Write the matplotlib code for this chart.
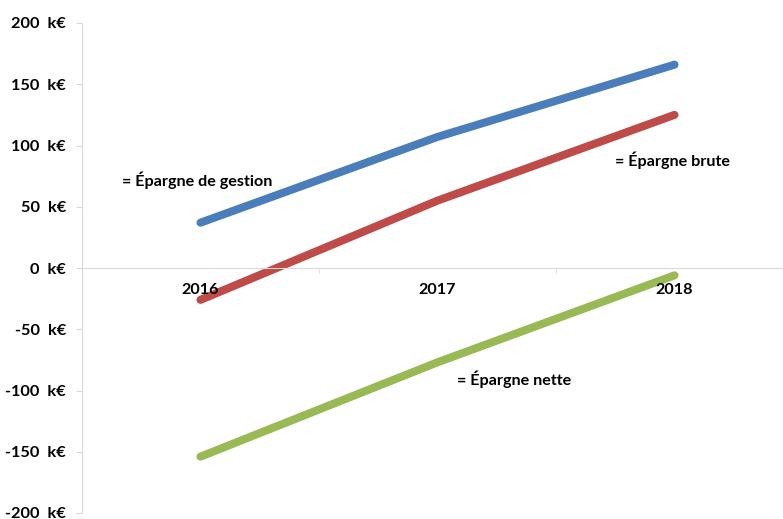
import matplotlib.pyplot as plt
from matplotlib.ticker import FixedLocator

years = ["2016", "2017", "2018"]
gestion = [37, 107, 166]
brute = [-26, 55, 125]
nette = [-154, -77, -6]
yticks = [-200, -150, -100, -50, 0, 50, 100, 150, 200]
ylabels = [f"{v}  k€" for v in yticks]

plt.rcParams['font.family'] = ['Lato', 'DejaVu Sans']
plt.rcParams['font.weight'] = 'bold'

fig = plt.figure(figsize=(7.83, 5.19), dpi=100)
ax = fig.add_axes([82 / 783, 1 - 513 / 519, 1 - 82 / 783, (513 - 23) / 519])
ax.set_axisbelow(False)

x = range(len(years))
ax.plot(x, gestion, color="#4A7EBB", lw=5.8, solid_capstyle="round", solid_joinstyle="round")
ax.plot(x, brute, color="#BE4B48", lw=5.8, solid_capstyle="round", solid_joinstyle="round")
ax.plot(x, nette, color="#98B954", lw=5.8, solid_capstyle="round", solid_joinstyle="round")

ax.set_xlim(-0.5, 2.5 - 10 / 237)
ax.set_ylim(-200, 200)
ax.set_yticks(yticks)
ax.set_xticks(list(x))
ax.xaxis.set_minor_locator(FixedLocator([0.5, 1.5]))

for s in ["top", "right"]:
    ax.spines[s].set_visible(False)
ax.spines["bottom"].set_position(("data", 0))
ax.spines["bottom"].set_color("#D9D9D9")
ax.spines["left"].set_color("#D9D9D9")
ax.tick_params(axis="y", length=4.5, color="#D9D9D9", pad=7, labelsize=11.8)
ax.tick_params(axis="x", which="major", length=0, pad=11, labelsize=11.6)
ax.tick_params(axis="x", which="minor", length=3.6, color="#D9D9D9")
ax.set_yticklabels(ylabels, fontweight="bold")
ax.set_xticklabels(years, fontweight="bold")

ax.text(-0.331, 72, "= Épargne de gestion", fontsize=11.6, fontweight="bold", va="center", ha="left")
ax.text(1.749, 88, "= Épargne brute", fontsize=11.6, fontweight="bold", va="center", ha="left")
ax.text(1.082, -91, "= Épargne nette", fontsize=11.6, fontweight="bold", va="center", ha="left")

fig.savefig("out.png", dpi=100)
